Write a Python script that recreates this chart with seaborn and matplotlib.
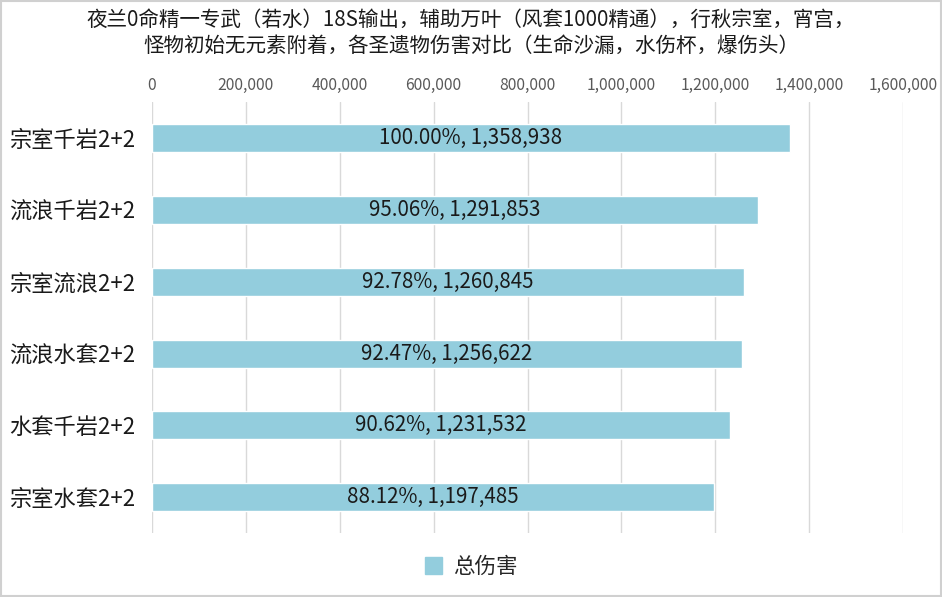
import matplotlib
matplotlib.use("Agg")
import matplotlib.pyplot as plt
import pandas as pd
import seaborn as sns
from matplotlib.patches import Rectangle
from matplotlib.ticker import FuncFormatter

sets = ["宗室千岩2+2", "流浪千岩2+2", "宗室流浪2+2", "流浪水套2+2", "水套千岩2+2", "宗室水套2+2"]
damage = [1358938, 1291853, 1260845, 1256622, 1231532, 1197485]
ratio = [100.00, 95.06, 92.78, 92.47, 90.62, 88.12]
title = "夜兰0命精一专武（若水）18S输出，辅助万叶（风套1000精通），行秋宗室，宵宫，\n怪物初始无元素附着，各圣遗物伤害对比（生命沙漏，水伤杯，爆伤头）"
BAR_COLOR = "#93CDDD"

sns.set_theme(style="white")
plt.rcParams["font.family"] = ["Noto Sans CJK SC", "DejaVu Sans"]

df = pd.DataFrame({"set": sets, "damage": damage})

fig = plt.figure(figsize=(9.42, 5.97), dpi=100)
ax = fig.add_axes([0.1614, 0.107, 0.7972, 0.722])
sns.barplot(data=df, x="damage", y="set", color=BAR_COLOR, width=0.39, ax=ax,
            saturation=1, label="总伤害")

ax.set_xlim(0, 1600000)
ax.set_xticks(range(0, 1600001, 200000))
ax.xaxis.set_major_formatter(FuncFormatter(lambda v, p: f"{int(v):,}"))
ax.xaxis.tick_top()
ax.tick_params(axis="x", length=0, labelsize=11.3, labelcolor="#595959", pad=6)
ax.tick_params(axis="y", length=0, labelsize=16, labelcolor="#1a1a1a", pad=12)
ax.grid(axis="x", color="#d9d9d9", linewidth=1)
ax.set_axisbelow(True)
for s in ax.spines.values():
    s.set_visible(False)
ax.set_xlabel("")
ax.set_ylabel("")

labels = [f"{r:.2f}%, {d:,}" for r, d in zip(ratio, damage)]
ax.bar_label(ax.containers[0], labels=labels, label_type="center", fontsize=14.8, color="#1a1a1a")

handles = [Rectangle((0, 0), 1, 1, color=BAR_COLOR)]
fig.legend(handles, ["总伤害"], loc="center", bbox_to_anchor=(0.5, 0.05), frameon=False,
           fontsize=15.5, handlelength=0.8, handleheight=0.8, handletextpad=0.5)
if ax.get_legend():
    ax.get_legend().remove()

fig.text(0.5, 0.945, title, ha="center", va="center", fontsize=14.8, color="#1a1a1a", linespacing=1.25)
fig.patches.append(Rectangle((0.001, 0.002), 0.998, 0.996, transform=fig.transFigure,
                             fill=False, edgecolor="#d0d0d0", linewidth=1.5))

fig.savefig("out.png", dpi=100, facecolor="white")
